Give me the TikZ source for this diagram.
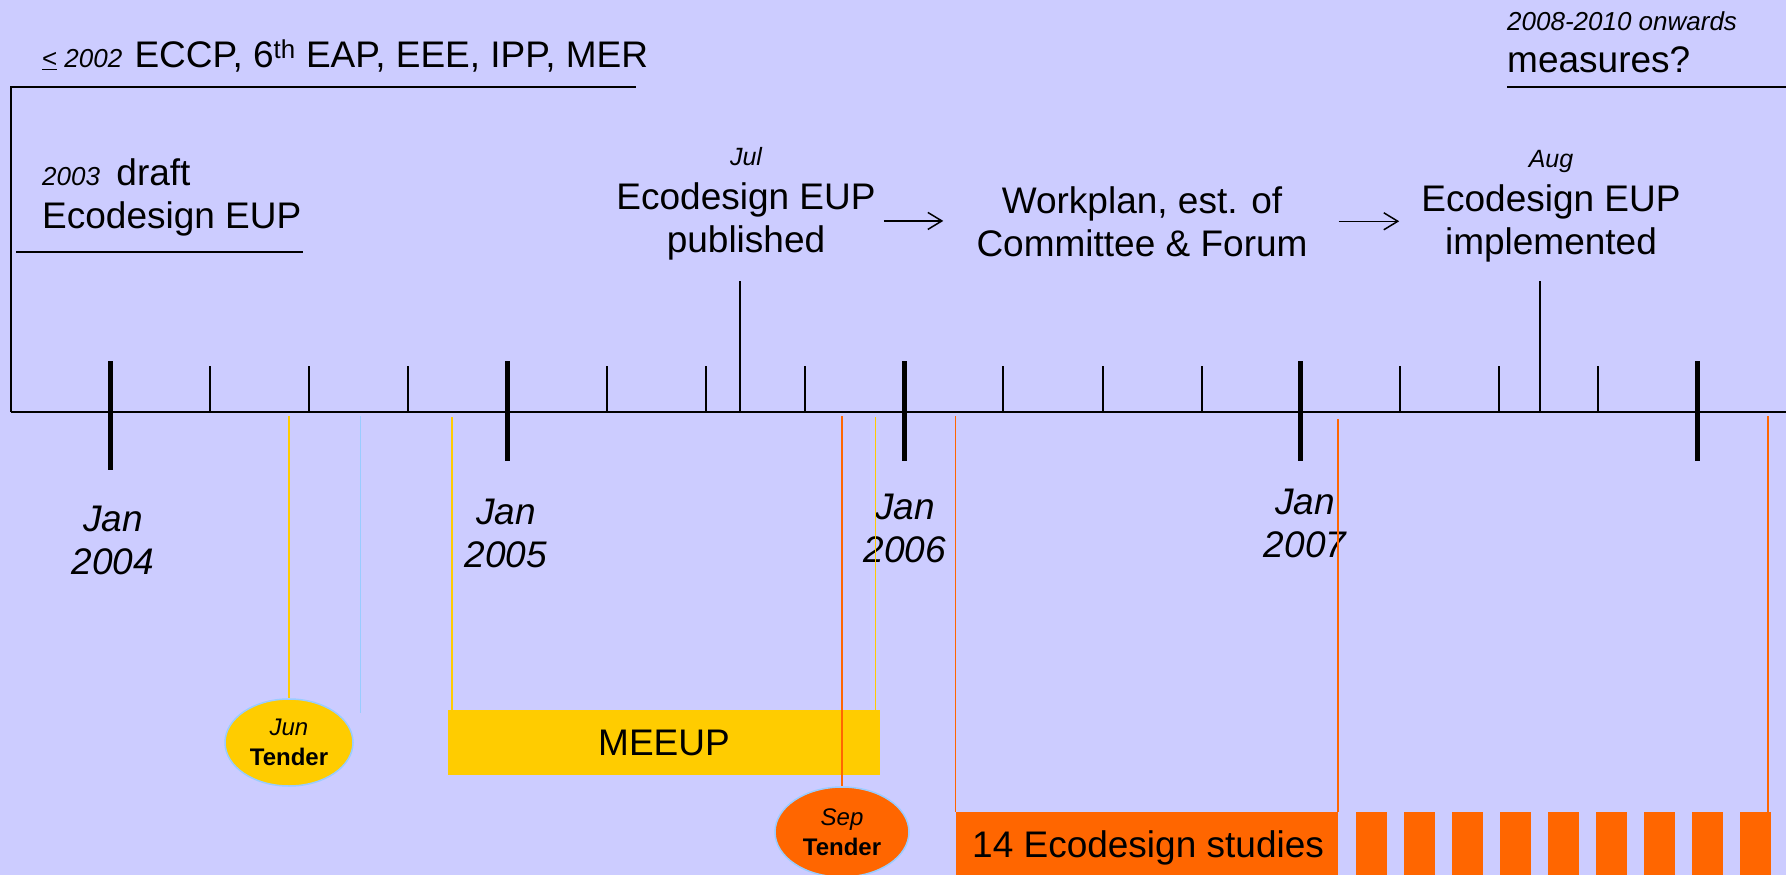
\documentclass[tikz,border=0pt]{standalone}
\usepackage{fontspec}
\setmainfont{Liberation Sans}
\usetikzlibrary{shapes.geometric,arrows.meta}
\definecolor{bgc}{HTML}{CCCCFF}
\definecolor{ylw}{HTML}{FFCC00}
\definecolor{org}{HTML}{FF6600}
\definecolor{lblue}{HTML}{99CCFF}
\newcommand{\bigf}{\fontsize{37}{43}\selectfont}
\newcommand{\smallf}{\fontsize{26}{30}\selectfont}
\newcommand{\tendf}{\fontsize{24}{29.5}\selectfont}
\begin{document}
\begin{tikzpicture}[x=1pt,y=-1pt,
  txt/.style={inner sep=0pt, font=\bigf, align=center},
  blackline/.style={line width=2pt, black},
  minortick/.style={line width=2pt, black},
  majortick/.style={line width=5pt, black},
  thinline/.style={line width=1.5pt, black},
  arr/.style={line width=1.5pt, black, -{Straight Barb[length=14pt,width=17pt,line width=1.5pt]}},
  yline/.style={line width=1.5pt, ylw},
  oline/.style={line width=1.5pt, org},
  bline/.style={line width=1.5pt, lblue},
  tenderbox/.style={ellipse, draw=lblue, line width=1.5pt, inner sep=0pt, align=center, font=\tendf},
  bar/.style={rectangle, inner sep=0pt, draw=none},
]
\useasboundingbox (0,0) rectangle (1786,875);
\fill[bgc] (0,0) rectangle (1786,875);

% top texts
\node[txt, anchor=base west] (pre) at (42,68) {{\smallf\underline{<}\hspace{7pt}\textit{2002}}\hspace{2pt} ECCP, 6\textsuperscript{th} EAP, EEE, IPP, MER};
\draw[blackline] (11,412) -- (11,87) -- (636,87);

\node[txt, anchor=base west, align=left] (draft) at (42,228) {{\smallf\itshape 2003}\, draft\\Ecodesign EUP};
\draw[blackline] (16,252) -- (303,252);

\node[txt, anchor=base west, font=\smallf\itshape] (onw) at (1507,31) {2008-2010 onwards};
\node[txt, anchor=base west] (meas) at (1507,73) {measures?};
\draw[blackline] (1507,87) -- (1786,87);

% middle texts
\node[txt, anchor=base, font=\fontsize{25}{29}\selectfont\itshape] (jul) at (746,165) {Jul};
\node[txt, anchor=base] (pub) at (746,252) {Ecodesign EUP\\published};
\node[txt, anchor=base] (work) at (1142,256) {Workplan, est. of\\Committee \& Forum};
\node[txt, anchor=base, font=\fontsize{25}{29}\selectfont\itshape] (aug) at (1551,167) {Aug};
\node[txt, anchor=base] (impl) at (1551,254) {Ecodesign EUP\\implemented};

\draw[arr] ([xshift=8pt]pub.east) -- ([xshift=-33pt]pub.east -| work.west);
\draw[arr] ([xshift=31pt]work.east) -- ([xshift=-22pt]work.east -| impl.west);

\coordinate (julpt) at (740,281);
\coordinate (julax) at (740,411);
\draw[thinline] (julpt) -- (julax);
\coordinate (augpt) at (1540,281);
\coordinate (augax) at (1540,411);
\draw[thinline] (augpt) -- (augax);

% timeline
\draw[line width=2.5pt, black] (11,412) -- (1786,412);
\foreach \k in {1,2,3,5,6,7,9,10,11,13,14,15}
  \draw[minortick] (110.8+\k*99.17,366) -- (110.8+\k*99.17,412);
\draw[majortick] (110.8,361) -- (110.8,470);
\foreach \k in {4,8,12,16}
  \draw[majortick] (110.8+\k*99.17,361) -- (110.8+\k*99.17,461);

% year labels
\node[txt, anchor=base, font=\bigf\itshape] (y4) at (113,574) {Jan\\2004};
\node[txt, anchor=base, font=\bigf\itshape] (y5) at (506,567) {Jan\\2005};
\node[txt, anchor=base, font=\bigf\itshape] (y6) at (905,562) {Jan\\2006};
\node[txt, anchor=base, font=\bigf\itshape] (y7) at (1305,557) {Jan\\2007};

% bottom boxes
\node[tenderbox, fill=ylw, minimum width=128pt, minimum height=87pt] (jun) at (289,742.5) {\textit{Jun}\\\textbf{Tender}};
\node[bar, fill=ylw, minimum width=432pt, minimum height=65pt, font=\bigf] (meeup) at (664,742.5) {MEEUP};
\node[tenderbox, fill=org, minimum width=134pt, minimum height=90pt] (sep) at (842,832) {\textit{Sep}\\\textbf{Tender}};
\node[bar, fill=org, minimum width=382pt, minimum height=68pt] (studies) at (1147,846) {};
\node[txt, anchor=base west] (studtxt) at (972,857) {14 Ecodesign studies};
\foreach \i in {0,...,8}
  \node[bar, fill=org, minimum width=31pt, minimum height=68pt] (sb\i) at (1371.5+\i*48,846) {};

% coloured drop lines
\coordinate (c1) at (289,416);
\draw[yline] (c1) -- (jun.north);
\coordinate (c2) at (360.5,416);
\coordinate (c2e) at (360.5,713);
\draw[bline] (c2) -- (c2e);
\coordinate (c3) at (451.8,417);
\draw[yline] (c3) -- ([yshift=-3pt]c3 |- meeup.north);
\coordinate (c4) at (875.5,417);
\draw[yline] (c4) -- (c4 |- meeup.north);
\coordinate (c5) at (842,416);
\draw[oline] (c5) -- (sep.north);
\coordinate (c6) at (955.5,416);
\draw[oline] (c6) -- (c6 |- studies.north);
\coordinate (c7) at (1337.8,419);
\draw[oline] (c7) -- (c7 |- studies.north);
\coordinate (c8) at (1767.8,416);
\draw[oline] (c8) -- (c8 |- sb8.north);
\end{tikzpicture}
\end{document}
